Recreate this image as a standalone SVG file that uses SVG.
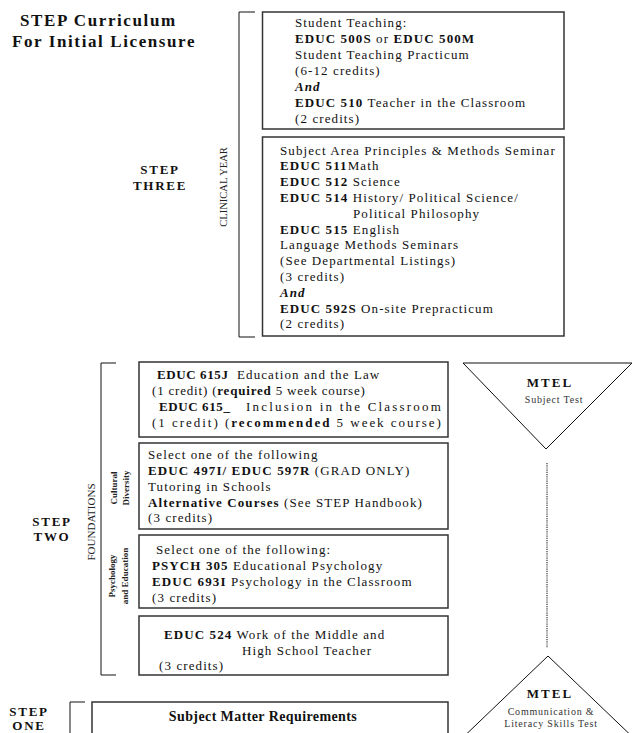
<svg xmlns="http://www.w3.org/2000/svg" width="633" height="733" viewBox="0 0 633 733">
<style>
.t{font-family:"Liberation Serif","Times New Roman",serif;font-size:13px;fill:#111;letter-spacing:1.1px}
.b{font-weight:bold}
.bi{font-weight:bold;font-style:italic}
.ttl{font-family:"Liberation Serif","Times New Roman",serif;font-size:17px;font-weight:bold;fill:#111;letter-spacing:1.6px}
.step{font-family:"Liberation Serif","Times New Roman",serif;font-size:13px;font-weight:bold;fill:#111;letter-spacing:1.7px;text-anchor:middle}
.vl{font-family:"Liberation Serif","Times New Roman",serif;font-size:10.5px;fill:#222;text-anchor:middle}
.vs{font-family:"Liberation Serif","Times New Roman",serif;font-size:9px;font-weight:bold;fill:#222;text-anchor:middle}
.box{fill:#fff;stroke:#333;stroke-width:1.5}
.br{fill:none;stroke:#111;stroke-width:1}
.tri{fill:#fff;stroke:#111;stroke-width:1}
.m1{font-family:"Liberation Serif","Times New Roman",serif;font-size:13px;font-weight:bold;fill:#111;letter-spacing:2px;text-anchor:middle}
.m2{font-family:"Liberation Serif","Times New Roman",serif;font-size:10px;fill:#333;letter-spacing:0.8px;text-anchor:middle}
</style>
<rect width="633" height="733" fill="#fff"/>

<g id="title">
<text class="ttl" x="20" y="26">STEP Curriculum</text>
<text class="ttl" x="12" y="47">For Initial Licensure</text>
</g>

<g id="labels">
<text class="step" x="160" y="174">STEP</text>
<text class="step" x="160" y="190">THREE</text>
<text class="vl" transform="translate(227,187) rotate(-90)">CLINICAL YEAR</text>
<text class="step" x="52" y="526">STEP</text>
<text class="step" x="52" y="541">TWO</text>
<text class="vl" style="font-size:11px" transform="translate(95,522) rotate(-90)">FOUNDATIONS</text>
<text class="vs" transform="translate(117,488) rotate(-90)">Cultural</text>
<text class="vs" transform="translate(129,488) rotate(-90)">Diversity</text>
<text class="vs" transform="translate(115,576) rotate(-90)">Psychology</text>
<text class="vs" transform="translate(128,576) rotate(-90)">and Education</text>
<text class="step" x="29" y="716">STEP</text>
<text class="step" x="29" y="729.5">ONE</text>
</g>

<g id="brackets">
<path class="br" d="M255,12 H239 V337 H255"/>
<path class="br" d="M116,363 H101 V675 H116"/>
<path class="br" d="M85,702 H70 V745"/>
</g>

<g id="student-teaching">
<rect class="box" x="262.5" y="12" width="301.5" height="117"/>
<text class="t" x="295" y="27">Student Teaching:</text>
<text class="t" x="295" y="43"><tspan class="b">EDUC 500S</tspan> or <tspan class="b">EDUC 500M</tspan></text>
<text class="t" x="295" y="59">Student Teaching Practicum</text>
<text class="t" x="295" y="75">(6-12 credits)</text>
<text class="t bi" x="295" y="91">And</text>
<text class="t" x="295" y="107"><tspan class="b">EDUC 510</tspan> Teacher in the Classroom</text>
<text class="t" x="295" y="123">(2 credits)</text>
</g>

<g id="methods-seminar">
<rect class="box" x="262.5" y="137" width="301.5" height="199"/>
<text class="t" x="280" y="154.5">Subject Area Principles &amp; Methods Seminar</text>
<text class="t" x="280" y="170.3"><tspan class="b">EDUC 511</tspan>Math</text>
<text class="t" x="280" y="186.1"><tspan class="b">EDUC 512</tspan> Science</text>
<text class="t" x="280" y="201.9"><tspan class="b">EDUC 514</tspan> History/ Political Science/</text>
<text class="t" x="353" y="217.7">Political Philosophy</text>
<text class="t" x="280" y="233.5"><tspan class="b">EDUC 515</tspan> English</text>
<text class="t" x="280" y="249.3">Language Methods Seminars</text>
<text class="t" x="280" y="265.1">(See Departmental Listings)</text>
<text class="t" x="280" y="280.9">(3 credits)</text>
<text class="t bi" x="280" y="296.7">And</text>
<text class="t" x="280" y="312.5"><tspan class="b">EDUC 592S</tspan> On-site Prepracticum</text>
<text class="t" x="280" y="328.3">(2 credits)</text>
</g>

<g id="law-inclusion">
<rect class="box" x="139" y="362" width="309" height="75"/>
<text class="t b" x="157" y="379" style="letter-spacing:0.6px">EDUC 615J</text>
<text class="t" x="237" y="379">Education and the Law</text>
<text class="t" x="152" y="395" textLength="214" lengthAdjust="spacing">(1 credit) (<tspan class="b">required</tspan> 5 week course)</text>
<text class="t b" x="159" y="411" style="letter-spacing:0.6px">EDUC 615_</text>
<text class="t" x="246" y="411" textLength="196" lengthAdjust="spacing">Inclusion in the Classroom</text>
<text class="t" x="152" y="427" textLength="290" lengthAdjust="spacing">(1 credit) (<tspan class="b">recommended</tspan> 5 week course)</text>
</g>

<g id="cultural-diversity">
<rect class="box" x="139" y="443" width="309" height="86"/>
<text class="t" x="148" y="459">Select one of the following</text>
<text class="t" x="148" y="475"><tspan class="b">EDUC 497I/ EDUC 597R</tspan> (GRAD ONLY)</text>
<text class="t" x="148" y="491">Tutoring in Schools</text>
<text class="t" x="148" y="507"><tspan class="b">Alternative Courses</tspan> (See STEP Handbook)</text>
<text class="t" x="148" y="522">(3 credits)</text>
</g>

<g id="psychology">
<rect class="box" x="139" y="535" width="309" height="73"/>
<text class="t" x="156" y="554">Select one of the following:</text>
<text class="t" x="152" y="570"><tspan class="b">PSYCH 305</tspan> Educational Psychology</text>
<text class="t" x="152" y="586"><tspan class="b">EDUC 693I</tspan> Psychology in the Classroom</text>
<text class="t" x="152" y="602">(3 credits)</text>
</g>

<g id="middle-high">
<rect class="box" x="139" y="616" width="309" height="59"/>
<text class="t" x="164" y="639"><tspan class="b">EDUC 524</tspan> Work of the Middle and</text>
<text class="t" x="242" y="655">High School Teacher</text>
<text class="t" x="159" y="670">(3 credits)</text>
</g>

<g id="subject-matter">
<rect class="box" x="92" y="702" width="356" height="60"/>
<text class="t b" style="font-size:14px;letter-spacing:0.4px" x="263" y="721" text-anchor="middle">Subject Matter Requirements</text>
</g>

<g id="connectors">
<line x1="547" y1="463" x2="547" y2="648" stroke="#333" stroke-width="1.2" stroke-dasharray="1.2,1"/>
</g>

<g id="mtel-subject">
<polygon class="tri" points="463,363 632,363 546,449"/>
<text class="m1" x="550" y="387">MTEL</text>
<text class="m2" x="554" y="403">Subject Test</text>
</g>

<g id="mtel-cls">
<polygon class="tri" points="548,656 455,745 641,745"/>
<text class="m1" x="550" y="698">MTEL</text>
<text class="m2" x="551" y="715">Communication &amp;</text>
<text class="m2" x="551" y="727">Literacy Skills Test</text>
</g>
</svg>
